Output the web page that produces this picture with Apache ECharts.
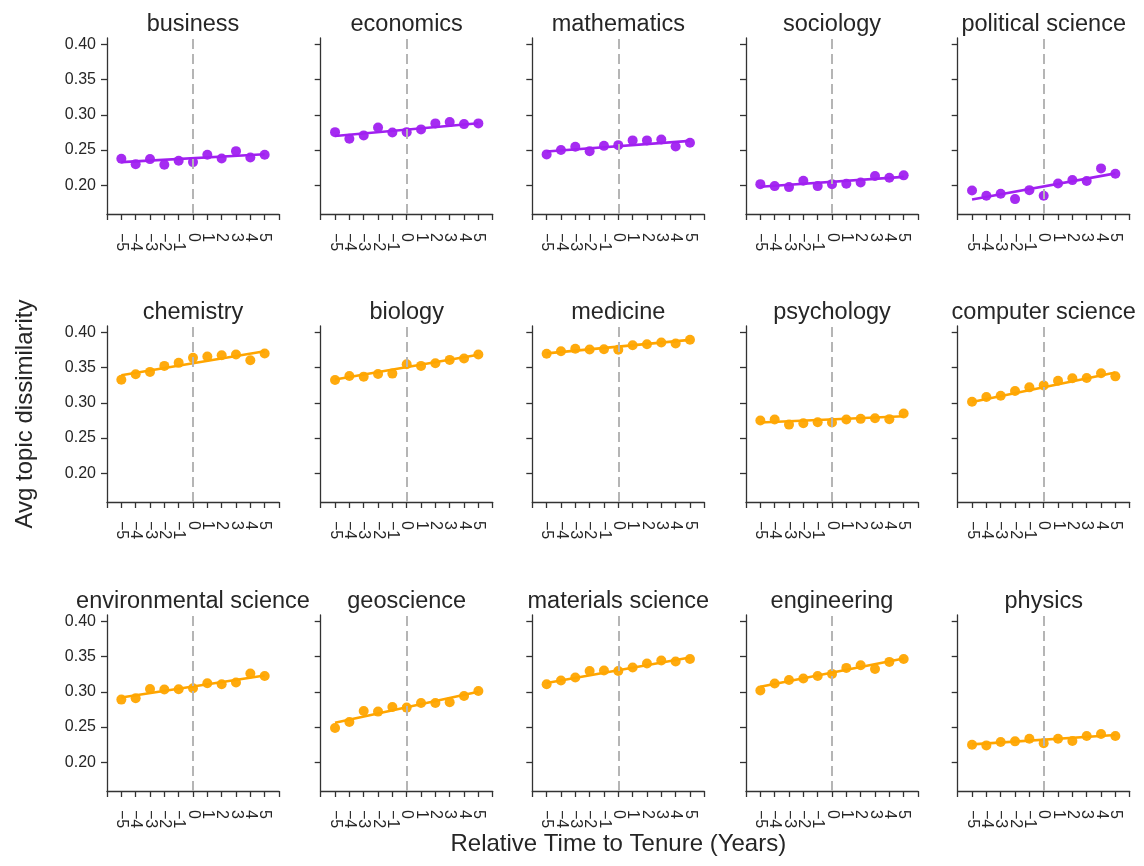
<!DOCTYPE html>
<html><head><meta charset="utf-8">
<script src="https://cdn.jsdelivr.net/npm/echarts@6/dist/echarts.min.js"></script>
<style>html,body{margin:0;padding:0;background:#fff}#chart{width:1144px;height:866px}</style>
</head><body><div id="chart"></div>
<script>
// ---- data ----
const fields = ['business','economics','mathematics','sociology','political science',
  'chemistry','biology','medicine','psychology','computer science',
  'environmental science','geoscience','materials science','engineering','physics'];
const fieldGroup = ['social','social','social','social','social',
  'stem','stem','stem','stem','stem','stem','stem','stem','stem','stem'];
const years = [-5,-4,-3,-2,-1,0,1,2,3,4,5];
const yTicks = [0.20,0.25,0.30,0.35,0.40];

const business     = [0.2377,0.2301,0.2372,0.2292,0.2348,0.2330,0.2433,0.2382,0.2485,0.2396,0.2433];
const economics    = [0.2754,0.2660,0.2708,0.2821,0.2750,0.2754,0.2793,0.2878,0.2896,0.2868,0.2878];
const mathematics  = [0.2439,0.2500,0.2546,0.2485,0.2560,0.2570,0.2637,0.2637,0.2651,0.2552,0.2603];
const sociology    = [0.2018,0.1990,0.1976,0.2065,0.1990,0.2018,0.2023,0.2042,0.2132,0.2108,0.2142];
const politicalScience = [0.1929,0.1853,0.1881,0.1806,0.1933,0.1853,0.2028,0.2075,0.2061,0.2241,0.2164];
const chemistry    = [0.3327,0.3403,0.3437,0.3522,0.3565,0.3636,0.3654,0.3673,0.3683,0.3602,0.3697];
const biology      = [0.3323,0.3380,0.3370,0.3408,0.3413,0.3545,0.3522,0.3559,0.3607,0.3626,0.3683];
const medicine     = [0.3693,0.3730,0.3764,0.3754,0.3758,0.3750,0.3815,0.3829,0.3853,0.3839,0.3892];
const psychology   = [0.2748,0.2762,0.2691,0.2711,0.2725,0.2720,0.2762,0.2772,0.2782,0.2768,0.2848];
const computerScience = [0.3014,0.3081,0.3100,0.3166,0.3218,0.3246,0.3313,0.3346,0.3351,0.3417,0.3374];
const environmentalScience = [0.2889,0.2908,0.3040,0.3031,0.3035,0.3050,0.3121,0.3106,0.3130,0.3258,0.3224];
const geoscience   = [0.2487,0.2572,0.2728,0.2719,0.2784,0.2776,0.2841,0.2841,0.2851,0.2940,0.3011];
const materialsScience = [0.3106,0.3159,0.3201,0.3295,0.3301,0.3295,0.3343,0.3400,0.3443,0.3428,0.3465];
const engineering  = [0.3017,0.3116,0.3167,0.3187,0.3224,0.3253,0.3338,0.3376,0.3323,0.3423,0.3465];
const physics      = [0.2251,0.2241,0.2288,0.2298,0.2336,0.2270,0.2336,0.2302,0.2373,0.2401,0.2373];

const fieldValues = [business, economics, mathematics, sociology, politicalScience,
  chemistry, biology, medicine, psychology, computerScience,
  environmentalScience, geoscience, materialsScience, engineering, physics];

// fitted trend line values read at x = -5 and x = 5
const fitStart = [0.233,0.270,0.248,0.198,0.180, 0.339,0.333,0.370,0.272,0.301, 0.292,0.256,0.3125,0.307,0.2255];
const fitEnd   = [0.244,0.288,0.263,0.212,0.217, 0.373,0.368,0.389,0.281,0.343, 0.323,0.300,0.3485,0.347,0.2387];

// ---- styling / layout ----
const FONT = "'Liberation Sans', Arial, Helvetica, sans-serif";
const TXT = '#262626';
const AX = '#333333';
const groupColor = { social: '#a020f0', stem: '#ffa500' };
const colLeft = [107, 320.7, 532.3, 746, 957.7];
const rowTop = [38, 326, 615];
const W = 172, H = 176;
const X_MIN = -6, X_MAX = 6;
const Y_MIN = 0.1595, Y_MAX = 0.4087;
const lineAxis = { color: AX, width: 1.3 };

const grids = [], xAxes = [], yAxes = [], series = [], titles = [];
fields.forEach((name, i) => {
  const r = Math.floor(i / 5), c = i % 5;
  grids.push({ left: colLeft[c], top: rowTop[r], width: W, height: H });
  titles.push({
    text: name, left: colLeft[c] + W / 2, top: rowTop[r] - 25, textAlign: 'center', padding: 0,
    textStyle: { fontFamily: FONT, fontSize: 23.5, fontWeight: 'normal', color: TXT }
  });

  const xa = {
    type: 'value', gridIndex: i, position: 'bottom', min: X_MIN, max: X_MAX, interval: 1,
    axisLine: { show: true, onZero: false, lineStyle: lineAxis },
    axisTick: { show: true, length: 6, lineStyle: lineAxis },
    splitLine: { show: false },
    axisLabel: { show: true, rotate: -90, margin: 19, fontSize: 16, color: TXT, fontFamily: FONT,
      formatter: v => (years.indexOf(v) === -1 ? '' : String(v).replace('-', '\u2212')) }
  };
  if (i === 12) {
    xa.name = 'Relative Time to Tenure (Years)';
    xa.nameLocation = 'middle';
    xa.nameGap = 36;
    xa.nameTextStyle = { fontFamily: FONT, fontSize: 24, color: TXT };
  }
  xAxes.push(xa);

  const ya = {
    type: 'value', gridIndex: i, min: Y_MIN, max: Y_MAX,
    axisLine: { show: true, onZero: false, lineStyle: lineAxis },
    axisTick: { show: true, length: 6, customValues: yTicks, lineStyle: lineAxis },
    axisLabel: { show: c === 0, customValues: yTicks, margin: 11, fontSize: 16, color: TXT, fontFamily: FONT,
      showMinLabel: true, showMaxLabel: true, formatter: v => v.toFixed(2) },
    splitLine: { show: false }
  };
  if (i === 5) {
    ya.name = 'Avg topic dissimilarity';
    ya.nameLocation = 'middle';
    ya.nameGap = 70;
    ya.nameTextStyle = { fontFamily: FONT, fontSize: 24, color: TXT };
  }
  yAxes.push(ya);

  const col = groupColor[fieldGroup[i]];
  series.push({
    type: 'line', xAxisIndex: i, yAxisIndex: i, showSymbol: false, silent: true, z: 2,
    data: [[years[0], fitStart[i]], [years[years.length - 1], fitEnd[i]]],
    lineStyle: { color: col, width: 2.6 },
    markLine: {
      silent: true, symbol: ['none', 'none'], label: { show: false }, animation: false,
      lineStyle: { type: [10, 5], color: '#b5b5b5', width: 2 },
      data: [{ xAxis: 0 }]
    }
  });
  series.push({
    type: 'scatter', xAxisIndex: i, yAxisIndex: i, symbolSize: 10, z: 3,
    data: years.map((x, k) => [x, fieldValues[i][k]]),
    itemStyle: { color: col, opacity: 0.95 }
  });
});

const chart = echarts.init(document.getElementById('chart'), null, { renderer: 'canvas' });
chart.setOption({
  animation: false,
  backgroundColor: '#ffffff',
  textStyle: { fontFamily: FONT },
  title: titles, grid: grids, xAxis: xAxes, yAxis: yAxes, series: series
});
</script></body></html>
